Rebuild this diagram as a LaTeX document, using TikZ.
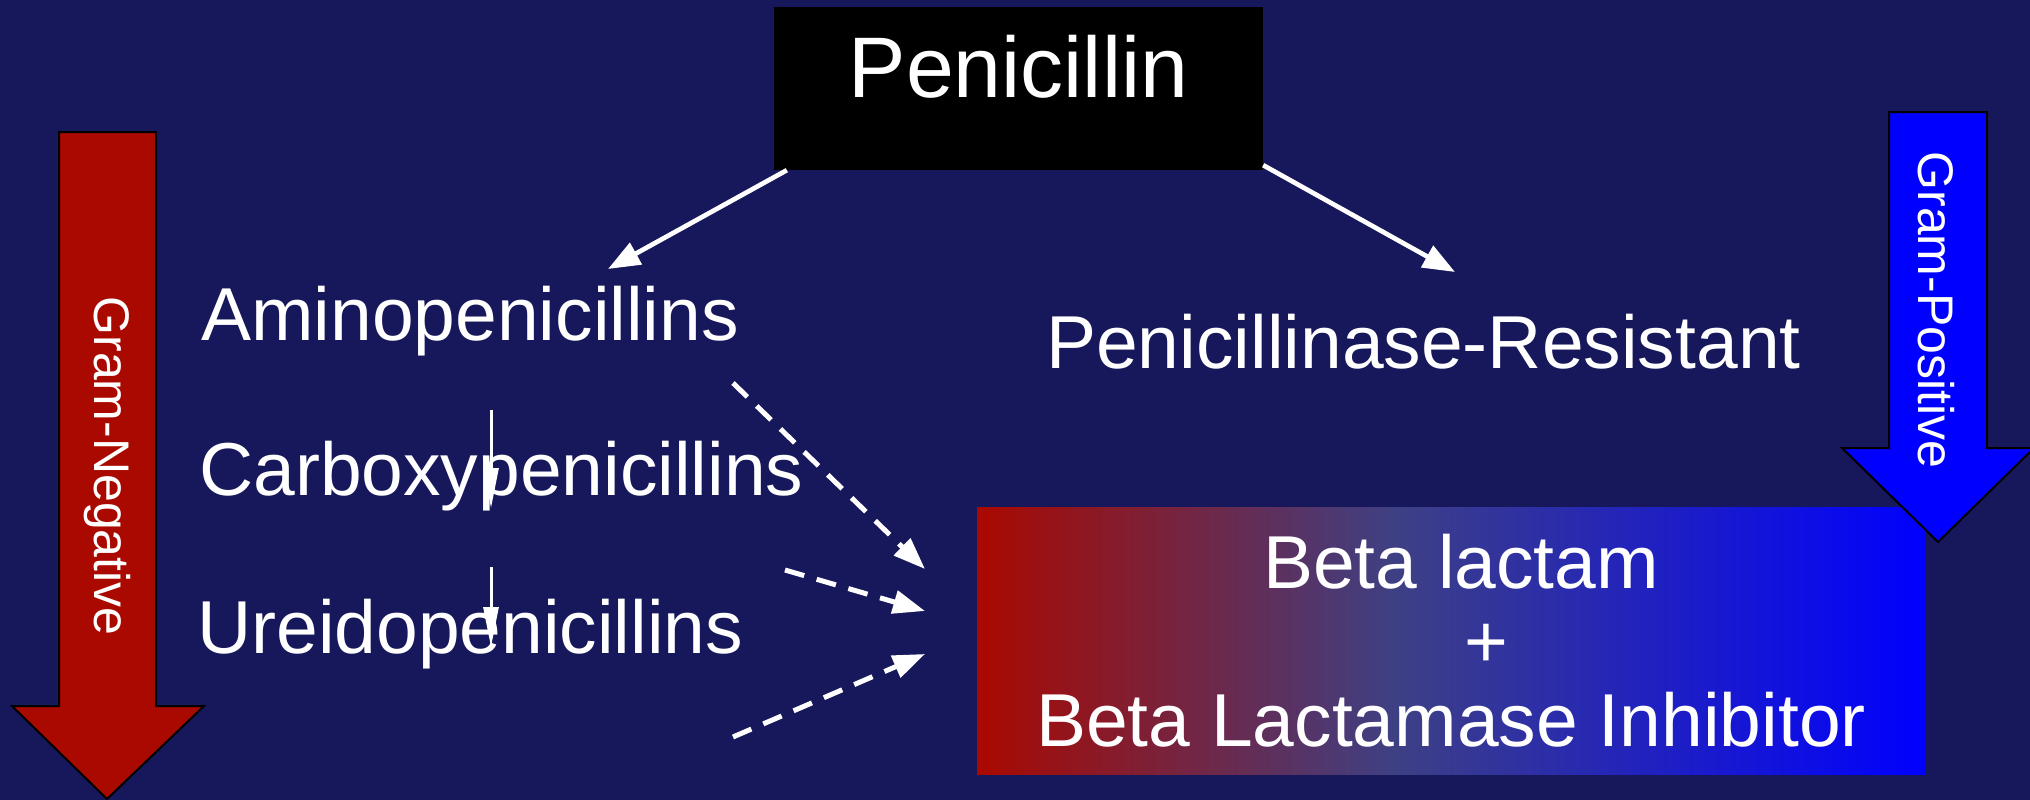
\documentclass[tikz,border=0pt]{standalone}
\usepackage{fontspec}
\setmainfont{Liberation Sans}
\usetikzlibrary{arrows.meta}
\definecolor{bgnavy}{RGB}{23,23,91}
\definecolor{gred}{RGB}{170,9,0}
\definecolor{gblue}{RGB}{0,0,255}
\definecolor{gmid}{RGB}{62,64,132}
\pgfdeclarehorizontalshading{boxgrad}{100bp}{color(0bp)=(gred); color(25bp)=(gred); color(47bp)=(gmid); color(75bp)=(gblue); color(100bp)=(gblue)}
\tikzset{
  lbl/.style={text=white, font=\fontsize{75}{80}\selectfont, inner sep=0pt, anchor=base west},
  solidarrow/.style={draw=white, line width=4.7pt, -{Triangle[length=32pt,width=24pt]}},
  dasharrow/.style={draw=white, line width=5pt, dash pattern=on 20pt off 13pt, -{Triangle[length=32pt,width=23pt]}},
  thinarrow/.style={draw=white, line width=3pt, -{Triangle[length=40pt,width=15pt]}},
  bigarrow/.style={draw=black, line width=2pt, line join=miter},
  sidelabel/.style={text=white, font=\fontsize{50}{55}\selectfont, rotate=-90, inner sep=0pt}
}
\begin{document}
\begin{tikzpicture}[x=1pt,y=-1pt]
\useasboundingbox (0,0) rectangle (2030,800);
\fill[bgnavy] (0,0) rectangle (2030,800);

% Penicillin box
\node (pen) [fill=black, text=white, inner sep=0pt, text height=90pt, text depth=73pt,
  minimum width=489pt, anchor=base, font=\fontsize{86}{92}\selectfont] at (1018.5,97) {Penicillin};

% labels
\node (amino) [lbl] at (201,340) {Aminopenicillins};
\node (carboxy) [lbl] at (199,495) {Carboxypenicillins};
\node (ureido) [lbl] at (197,653) {Ureidopenicillins};
\node (penres) [lbl] at (1046,368) {Penicillinase-Resistant};

% free ends
\coordinate (aminoTip) at (608,269);
\coordinate (penresTip) at (1455,272);
\coordinate (d1s) at (733,383);
\coordinate (d1e) at (925,569);
\coordinate (d2s) at (785,570);
\coordinate (d2e) at (925,611);
\coordinate (d3s) at (733,737);
\coordinate (d3e) at (925,654);
\coordinate (t1s) at (491,410);
\coordinate (t1e) at (491,508);
\coordinate (t2s) at (491,567);
\coordinate (t2e) at (491,647);

% arrows from Penicillin
\draw[solidarrow] ([xshift=13pt]pen.south west) -- (aminoTip);
\draw[solidarrow] ([yshift=5pt]pen.south east) -- (penresTip);

% small vertical arrows
\draw[thinarrow] (t1s) -- (t1e);
\draw[thinarrow] (t2s) -- (t2e);

% dashed arrows
\draw[dasharrow] (d1s) -- (d1e);
\draw[dasharrow] (d2s) -- (d2e);
\draw[dasharrow] (d3s) -- (d3e);

% combination box
\node (combo) [shade, shading=boxgrad, minimum width=948pt, minimum height=267pt, inner sep=0pt,
  text=white, align=center, font=\fontsize{75}{79}\selectfont] at (1451,640.5)
  {\hspace*{20pt}Beta lactam\\\hspace*{70pt}+\\Beta Lactamase Inhibitor};

% Gram-negative arrow
\filldraw[bigarrow, fill=gred] (59,132) -- (156,132) -- (156,706) -- (204,706) -- (107,799)
  -- (12,706) -- (59,706) -- cycle;
\node (gneg) [sidelabel] at (107,466) {Gram-Negative};

% Gram-positive arrow
\filldraw[bigarrow, fill=gblue] (1889,112) -- (1987,112) -- (1987,448) -- (2034,448) -- (1938,542)
  -- (1842,448) -- (1889,448) -- cycle;
\node (gpos) [sidelabel] at (1936,310) {Gram-Positive};
\end{tikzpicture}
\end{document}
